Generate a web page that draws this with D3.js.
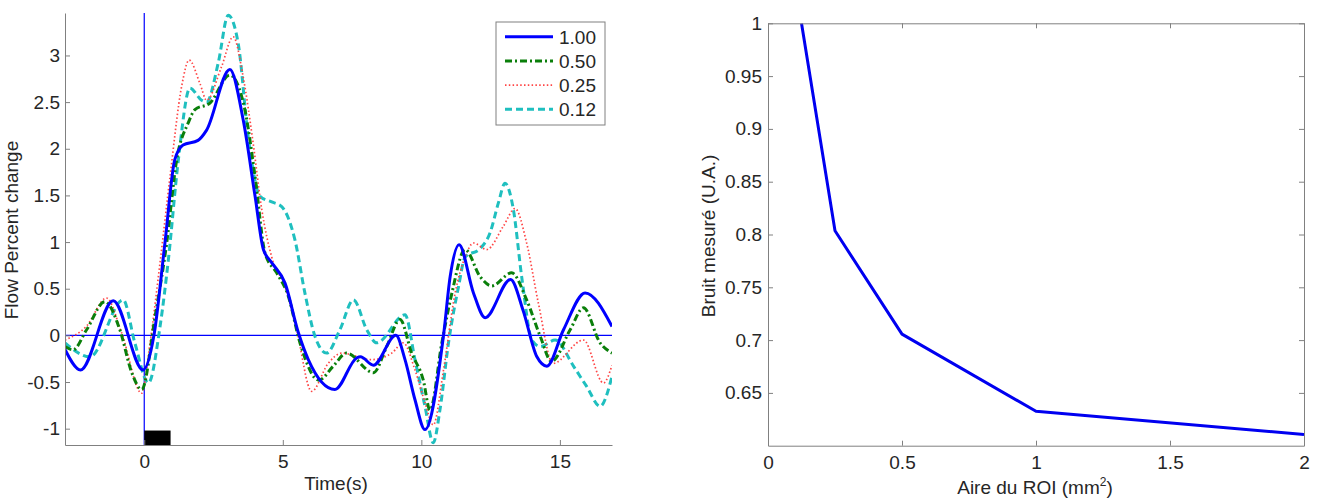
<!DOCTYPE html>
<html>
<head>
<meta charset="utf-8">
<script src="https://cdn.jsdelivr.net/npm/d3@7"></script>
<style>
  body { margin: 0; background: #fff; }
  svg { font-family: "Liberation Sans", Arial, sans-serif; }
</style>
</head>
<body>
<div id="wrapper"></div>
<script>
// left panel: flow response, one [t, value] array per ROI size
const series100 = [[-2.86,-0.15],[-2.3,-0.37],[-1.12,0.37],[-0.04,-0.37],[0.35,0.0],[0.75,1.0],[1.1,1.88],[1.4,2.04],[1.94,2.09],[2.25,2.2],[3.09,2.85],[3.57,2.31],[4.0,1.49],[4.3,0.92],[4.6,0.78],[5.08,0.56],[5.56,0.03],[5.92,-0.26],[6.88,-0.58],[7.67,-0.24],[7.8,-0.23],[8.27,-0.32],[9.08,0.0],[9.41,-0.26],[9.77,-0.69],[10.13,-1.01],[10.8,0.0],[11.04,0.63],[11.36,0.97],[11.88,0.455],[12.3,0.19],[13.22,0.6],[13.67,0.27],[14.17,-0.23],[14.53,-0.33],[15.13,0.06],[15.91,0.455],[16.88,0.095]]
const series050 = [[-2.86,-0.12],[-2.57,-0.155],[-2.08,0.06],[-1.42,0.36],[-0.88,0.06],[-0.45,-0.4],[-0.09,-0.58],[0.39,0.2],[0.81,0.99],[1.17,1.88],[1.59,2.28],[1.83,2.42],[2.37,2.49],[3.09,2.79],[3.63,2.42],[4.0,1.7],[4.36,0.88],[4.78,0.67],[5.2,0.42],[5.62,-0.08],[6.3,-0.48],[6.82,-0.33],[7.3,-0.19],[8.27,-0.4],[8.75,-0.12],[9.23,0.17],[9.65,-0.19],[10.07,-0.48],[10.31,-0.8],[10.74,-0.08],[11.1,0.45],[11.58,0.92],[12.12,0.63],[12.54,0.53],[13.26,0.67],[13.8,0.38],[14.29,-0.01],[14.7,-0.28],[15.37,0.06],[15.85,0.295],[16.45,-0.08],[16.88,-0.19]]
const series025 = [[-2.86,-0.05],[-2.08,0.1],[-1.36,0.4],[-0.82,0.03],[-0.09,-0.62],[0.21,-0.08],[0.57,0.78],[0.93,1.7],[1.35,2.67],[1.62,2.95],[2.01,2.7],[2.25,2.52],[2.79,2.88],[3.21,3.2],[3.57,2.77],[3.93,2.06],[4.24,1.35],[4.6,0.84],[5.08,0.52],[5.5,0.06],[6.04,-0.6],[6.64,-0.3],[7.13,-0.19],[8.2,-0.26],[8.93,-0.19],[9.35,-0.08],[9.77,-0.37],[10.13,-0.72],[10.43,-0.96],[10.8,-0.37],[11.22,0.455],[11.58,0.84],[11.88,0.99],[12.36,0.92],[12.96,1.17],[13.38,1.36],[13.8,0.99],[14.22,0.35],[14.75,-0.3],[15.85,-0.05],[16.57,-0.51],[16.88,-0.32]]
const series012 = [[-2.86,-0.08],[-1.96,-0.23],[-0.76,0.38],[-0.34,-0.08],[0.15,-0.51],[0.57,0.095],[0.87,0.81],[1.23,1.88],[1.65,2.65],[2.07,2.52],[2.25,2.5],[2.67,2.92],[3.03,3.43],[3.39,3.13],[3.75,2.13],[4.18,1.49],[4.6,1.43],[4.96,1.38],[5.44,1.02],[5.8,0.45],[6.16,-0.01],[6.58,-0.19],[7.06,0.06],[7.55,0.38],[8.03,0.06],[8.39,-0.08],[9.41,0.22],[9.77,-0.26],[10.13,-0.76],[10.43,-1.15],[10.67,-0.8],[10.98,-0.08],[11.34,0.52],[11.58,0.84],[12.12,0.93],[12.48,1.1],[12.78,1.42],[13.02,1.63],[13.32,1.35],[13.62,0.63],[13.99,-0.05],[14.29,-0.12],[14.83,-0.05],[15.49,-0.33],[15.97,-0.55],[16.45,-0.76],[16.88,-0.44]]

const legendLabels = ["1.00", "0.50", "0.25", "0.12"]
const leftXTicks = [0, 5, 10, 15]
const leftYTicks = [-1, -0.5, 0, 0.5, 1, 1.5, 2, 2.5, 3]
const stimulus = [0, 0.95]   // black bar under the axis, seconds

// right panel: noise vs ROI area
const roiArea = [0.125, 0.25, 0.5, 1, 2]
const noise = [1.0, 0.8035, 0.7057, 0.6326, 0.6107]
const rightXTicks = [0, 0.5, 1, 1.5, 2]
const rightYTicks = [0.65, 0.7, 0.75, 0.8, 0.85, 0.9, 0.95, 1]

const width = 1323
const height = 498
const fontSize = 19
const textColor = "#262626"
const axisColor = "#808080"
const plainNum = d => String(d)   // hyphen minus, like the original

const svg = d3.select("#wrapper")
  .append("svg")
  .attr("width", width)
  .attr("height", height)

// style an axis group: gray lines, large dark labels
function styleAxis(g) {
  g.attr("font-size", fontSize).attr("font-family", null)
  g.selectAll("path, line").style("stroke", axisColor)
  g.selectAll("text")
    .style("font-size", fontSize + "px")
    .style("fill", textColor)
}

// ---------- left panel ----------
const xScale = d3.scaleLinear().domain([-2.86, 16.88]).range([65, 612])
const yScale = d3.scaleLinear().domain([-1.175, 3.455]).range([445, 13])

svg.append("clipPath").attr("id", "clipL")
  .append("rect")
  .attr("x", 65).attr("y", 13)
  .attr("width", 547).attr("height", 432)

const styles = [
  { data: series100, color: "#0000ff", width: 3, dash: null },
  { data: series050, color: "#0a7f0a", width: 3, dash: "7,3,2,3" },
  { data: series025, color: "#ff4545", width: 1.7, dash: "1.5,2.3" },
  { data: series012, color: "#1fbfbf", width: 3, dash: "7,4" },
]

const lineGen = d3.line()
  .x(d => xScale(d[0]))
  .y(d => yScale(d[1]))
  .curve(d3.curveMonotoneX)

const plotL = svg.append("g").attr("clip-path", "url(#clipL)")

// reference lines at t=0 and 0 %
plotL.append("line")
  .attr("x1", xScale(0)).attr("x2", xScale(0))
  .attr("y1", yScale.range()[1]).attr("y2", yScale.range()[0])
  .attr("stroke", "#0000ff").attr("stroke-width", 1.2)
plotL.append("line")
  .attr("x1", xScale.range()[0]).attr("x2", xScale.range()[1])
  .attr("y1", yScale(0)).attr("y2", yScale(0))
  .attr("stroke", "#0000ff").attr("stroke-width", 1.2)

plotL.append("rect")
  .attr("x", xScale(stimulus[0]))
  .attr("y", yScale(-1.02))
  .attr("width", xScale(stimulus[1]) - xScale(stimulus[0]))
  .attr("height", yScale(-1.175) - yScale(-1.02))
  .attr("fill", "#000")

// draw in reverse so the solid line ends up on top
styles.slice().reverse().forEach(s => {
  plotL.append("path")
    .attr("d", lineGen(s.data))
    .attr("fill", "none")
    .attr("stroke", s.color)
    .attr("stroke-width", s.width)
    .attr("stroke-dasharray", s.dash)
    .attr("stroke-linejoin", "round")
})

svg.append("g")
  .attr("transform", "translate(0,445)")
  .call(d3.axisBottom(xScale).tickValues(leftXTicks).tickSizeInner(-5).tickSizeOuter(0).tickPadding(10)
    .tickFormat(plainNum))
  .call(styleAxis)
svg.append("g")
  .attr("transform", "translate(65,0)")
  .call(d3.axisLeft(yScale).tickValues(leftYTicks).tickSizeInner(-5).tickSizeOuter(0).tickPadding(5)
    .tickFormat(plainNum))
  .call(styleAxis)

svg.append("text")
  .attr("x", 336).attr("y", 490)
  .attr("text-anchor", "middle")
  .attr("font-size", fontSize).attr("fill", textColor)
  .text("Time(s)")
svg.append("text")
  .attr("transform", "translate(18,230) rotate(-90)")
  .attr("text-anchor", "middle")
  .attr("font-size", fontSize).attr("fill", textColor)
  .text("Flow Percent change")

// legend
const legend = svg.append("g").attr("transform", "translate(496,22)")
legend.append("rect")
  .attr("width", 109).attr("height", 103)
  .attr("fill", "#fff").attr("stroke", axisColor)
styles.forEach((s, i) => {
  const y = 14.7 + i * 24.2
  legend.append("line")
    .attr("x1", 9).attr("x2", 57)
    .attr("y1", y).attr("y2", y)
    .attr("stroke", s.color)
    .attr("stroke-width", s.width)
    .attr("stroke-dasharray", s.dash)
  legend.append("text")
    .attr("x", 63).attr("y", y + 6.8)
    .attr("font-size", fontSize).attr("fill", textColor)
    .text(legendLabels[i])
})

// ---------- right panel ----------
const xScaleR = d3.scaleLinear().domain([0, 2]).range([768, 1304])
const yScaleR = d3.scaleLinear().domain([0.6, 1]).range([445.7, 23.3])

svg.append("clipPath").attr("id", "clipR")
  .append("rect")
  .attr("x", 768).attr("y", 23.3)
  .attr("width", 536).attr("height", 422.4)

svg.append("g").attr("clip-path", "url(#clipR)")
  .append("path")
  .datum(roiArea.map((a, i) => [a, noise[i]]))
  .attr("d", d3.line().x(d => xScaleR(d[0])).y(d => yScaleR(d[1])))
  .attr("fill", "none")
  .attr("stroke", "#0000f0")
  .attr("stroke-width", 3)
  .attr("stroke-linejoin", "round")

svg.append("g")
  .attr("transform", "translate(0,445.7)")
  .call(d3.axisBottom(xScaleR).tickValues(rightXTicks).tickSizeInner(-5).tickSizeOuter(0).tickPadding(10)
    .tickFormat(plainNum))
  .call(styleAxis)
svg.append("g")
  .attr("transform", "translate(0,23.3)")
  .call(d3.axisTop(xScaleR).tickValues(rightXTicks).tickSizeInner(-5).tickSizeOuter(0).tickFormat(""))
  .call(styleAxis)
svg.append("g")
  .attr("transform", "translate(768,0)")
  .call(d3.axisLeft(yScaleR).tickValues(rightYTicks).tickSizeInner(-5).tickSizeOuter(0).tickPadding(6)
    .tickFormat(plainNum))
  .call(styleAxis)
svg.append("g")
  .attr("transform", "translate(1304,0)")
  .call(d3.axisRight(yScaleR).tickValues(rightYTicks).tickSizeInner(-5).tickSizeOuter(0).tickFormat(""))
  .call(styleAxis)

const xLabelR = svg.append("text")
  .attr("x", 1035).attr("y", 494)
  .attr("text-anchor", "middle")
  .attr("font-size", fontSize).attr("fill", textColor)
xLabelR.append("tspan").text("Aire du ROI (mm")
xLabelR.append("tspan").attr("font-size", 12).attr("dy", -8).text("2")
xLabelR.append("tspan").attr("dy", 8).text(")")

svg.append("text")
  .attr("transform", "translate(715,236) rotate(-90)")
  .attr("text-anchor", "middle")
  .attr("font-size", fontSize).attr("fill", textColor)
  .text("Bruit mesuré (U.A.)")
</script>
</body>
</html>
